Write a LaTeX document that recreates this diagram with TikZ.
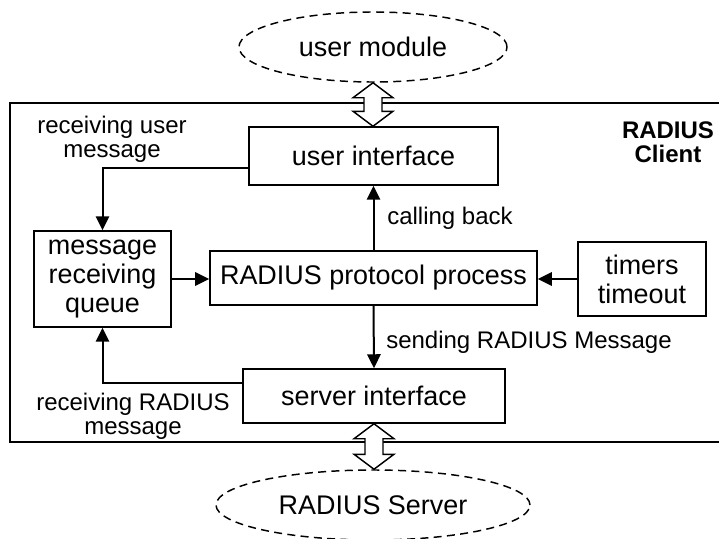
\documentclass[tikz,border=0pt]{standalone}
\usepackage{fontspec}
\setmainfont{Liberation Sans}
\usetikzlibrary{shapes.geometric,arrows.meta,calc}

\tikzset{
	box/.style = {draw, line width=1.1pt, inner sep=0pt, align=center,
		font=\fontsize{20.2}{21.8}\selectfont},
	cloud/.style = {draw, ellipse, dash pattern=on 6pt off 4pt, line width=1.1pt, inner sep=0pt,
		font=\fontsize{20.2}{21.8}\selectfont},
	lbl/.style = {inner sep=0pt, align=center, font=\fontsize{18}{18}\selectfont},
	arr/.style = {line width=1.5pt, -{Triangle[length=10.5pt,width=10pt]}},
	hollow/.style = {draw, fill=white, line width=1.1pt, line join=miter}
}
% hollow double arrow between two points (top tip, bottom tip)
\newcommand{\dblarrow}[2]{%
	\path[hollow] let \p1 = (#1), \p2 = (#2) in
		(\x1,\y1) -- (\x1+15pt,\y1-11.25pt) -- (\x1+6.75pt,\y1-11.25pt)
		-- (\x1+6.75pt,\y2+11.25pt) -- (\x1+15pt,\y2+11.25pt) -- (\x1,\y2)
		-- (\x1-15pt,\y2+11.25pt) -- (\x1-6.75pt,\y2+11.25pt)
		-- (\x1-6.75pt,\y1-11.25pt) -- (\x1-15pt,\y1-11.25pt) -- cycle;}

\begin{document}
\begin{tikzpicture}[x=0.75pt, y=-0.75pt]
	\useasboundingbox (0,0) rectangle (719,539);

	% client frame (open to the right)
	\draw[line width=1.5pt] (725,103) -- (10,103) -- (10,442) -- (725,442);

	\node[cloud, minimum width=201pt, minimum height=52.5pt] (um) at (373,47) {user module};
	\node[cloud, minimum width=235.5pt, minimum height=52.5pt] (rs) at (373,505) {RADIUS Server};

	\node[box, minimum width=186.8pt, minimum height=43.5pt] (ui) at (373.5,156) {user interface};
	\node[box, minimum width=102.8pt, minimum height=72pt] (queue) at (102.5,279) {message\\receiving\\queue};
	\node[box, minimum width=245.3pt, minimum height=40.5pt] (proc) at (373.5,278) {RADIUS protocol process};
	\node[box, minimum width=96pt, minimum height=55.5pt] (timers) at (642,279) {timers\\timeout};
	\node[box, minimum width=196.5pt, minimum height=40.5pt] (si) at (374,396) {server interface};

	\node[lbl] (rum) at (112,139) {receiving user\\message};
	\node[lbl] (rrm) at (133,416) {receiving RADIUS\\message};
	\node[lbl, font=\fontsize{18}{18}\selectfont\bfseries] (cl) at (668,142) {RADIUS\\Client};
	\node[lbl, anchor=west] (cb) at (387,218) {calling back};
	\node[lbl, anchor=west] (srm) at (386,342) {sending RADIUS Message};

	\draw[arr] ($(ui.west)+(0,12)$) -| (queue.north);
	\draw[arr] ($(si.west)+(0,-13)$) -| (queue.south);
	\draw[arr] (queue.east) -- (proc.west |- queue.east);
	\draw[arr] (timers.west) -- (proc.east |- timers.west);
	\draw[arr] (proc.north) -- (ui.south);
	\draw[arr] (proc.south) -- (si.north);

	\dblarrow{um.south}{ui.north}
	\dblarrow{si.south}{rs.north}

\end{tikzpicture}
\end{document}
